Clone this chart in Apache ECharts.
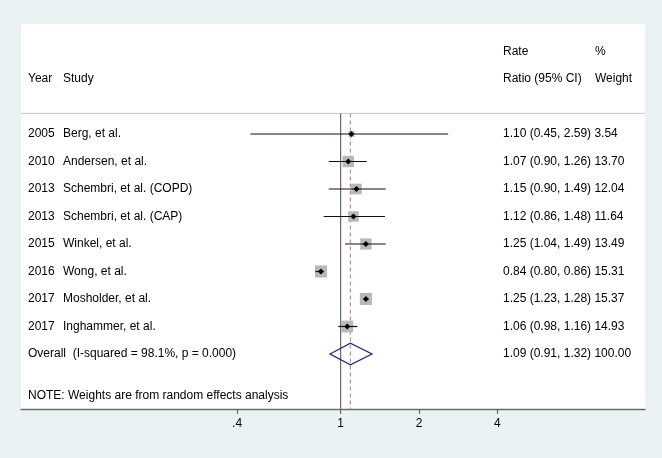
<!DOCTYPE html>
<html><head><meta charset="utf-8">
<script src="https://cdn.jsdelivr.net/npm/echarts@6/dist/echarts.min.js"></script>
<style>html,body{margin:0;padding:0;background:#eaf2f3}#c{width:662px;height:458px}</style>
</head><body><div id="c"></div>
<script>
// ---- data ----
const years = ['2005','2010','2013','2013','2015','2016','2017','2017'];
const studies = ['Berg, et al.','Andersen, et al.','Schembri, et al. (COPD)','Schembri, et al. (CAP)','Winkel, et al.','Wong, et al.','Mosholder, et al.','Inghammer, et al.'];
const rateRatio = [1.10, 1.07, 1.15, 1.12, 1.25, 0.84, 1.25, 1.06];
const ciLower   = [0.45, 0.90, 0.90, 0.86, 1.04, 0.80, 1.23, 0.98];
const ciUpper   = [2.59, 1.26, 1.49, 1.48, 1.49, 0.86, 1.28, 1.16];
const weights   = [3.54, 13.70, 12.04, 11.64, 13.49, 15.31, 15.37, 14.93];
const overallRR = 1.09, overallLower = 0.91, overallUpper = 1.32, overallWeight = 100.00;
const overallLabel = 'Overall  (I-squared = 98.1%, p = 0.000)';
const noteText = 'NOTE: Weights are from random effects analysis';
const nullValue = 1;
const xTicks = [0.4, 1, 2, 4];
const xTickLabels = ['.4', '1', '2', '4'];
const headerLeft = [['Year', 'Study'], ['', '']];
const headerRight1 = ['Rate', '%'];
const headerRight2 = ['Ratio (95% CI)', 'Weight'];

// ---- layout ----
const FONT = '12px "Liberation Sans", Arial, sans-serif';
const yMin = -4, yMax = 10, sepRow = -0.75;
const overallRow = rateRatio.length;
const noteRow = overallRow + 1.5;
const fmt = v => v.toFixed(2);

const studyRows = rateRatio.map((v, i) => [v, i, ciLower[i], ciUpper[i], weights[i]]);

const chart = echarts.init(document.getElementById('c'));
chart.setOption({
  animation: false,
  backgroundColor: '#eaf2f3',
  grid: { left: 21, right: 17, top: 24, bottom: 49, show: true, backgroundColor: '#ffffff', borderWidth: 0 },
  xAxis: {
    type: 'log', logBase: 10, min: 0.0591, max: 14.78,
    axisLine: { show: true, onZero: false, lineStyle: { color: '#6b6b6b', width: 1.3 } },
    axisTick: { show: true, customValues: xTicks, length: 5, lineStyle: { color: '#6b6b6b', width: 1.2 } },
    axisLabel: { customValues: xTicks, color: '#000', fontSize: 12, fontFamily: '"Liberation Sans", Arial, sans-serif', margin: 9,
      formatter: v => { const i = xTicks.findIndex(t => Math.abs(t - v) < 1e-6); return i >= 0 ? xTickLabels[i] : ''; } },
    splitLine: { show: false }
  },
  yAxis: { type: 'value', inverse: true, min: yMin, max: yMax, show: false, splitLine: { show: false } },
  series: [
    { // separator line
      type: 'custom', data: [[nullValue, sepRow]], encode: { x: 0, y: 1 }, z: 1,
      renderItem: (params, api) => {
        const p = api.coord([api.value(0), api.value(1)]);
        const cs = params.coordSys;
        return { type: 'line', shape: { x1: cs.x, y1: p[1], x2: cs.x + cs.width, y2: p[1] },
          style: { stroke: '#c8c8c8', lineWidth: 1 } };
      }
    },
    { // reference lines: null and overall
      type: 'custom', data: [[nullValue, sepRow, 0], [overallRR, sepRow, 1]], encode: { x: 0, y: 1 }, z: 2,
      renderItem: (params, api) => {
        const x = api.value(0);
        const p1 = api.coord([x, api.value(1)]);
        const p2 = api.coord([x, yMax]);
        const dashed = api.value(2) === 1;
        return { type: 'line', shape: { x1: p1[0], y1: p1[1], x2: p2[0], y2: p2[1] },
          style: dashed ? { stroke: '#c4828a', lineWidth: 1.1, lineDash: [4, 3] } : { stroke: '#666666', lineWidth: 1.2 } };
      }
    },
    { // study boxes, CI lines and point markers
      type: 'custom', data: studyRows, encode: { x: [0, 2, 3], y: 1 }, z: 3,
      renderItem: (params, api) => {
        const c = api.coord([api.value(0), api.value(1)]);
        const l = api.coord([api.value(2), api.value(1)]);
        const u = api.coord([api.value(3), api.value(1)]);
        const s = 3.07 * Math.sqrt(api.value(4));
        const d = 3;
        return { type: 'group', children: [
          { type: 'rect', shape: { x: c[0] - s / 2, y: c[1] - s / 2, width: s, height: s }, style: { fill: '#b8b8b8' } },
          { type: 'line', shape: { x1: l[0], y1: l[1], x2: u[0], y2: u[1] }, style: { stroke: '#111', lineWidth: 1.2 } },
          { type: 'polygon', shape: { points: [[c[0] - d, c[1]], [c[0], c[1] - d], [c[0] + d, c[1]], [c[0], c[1] + d]] }, style: { fill: '#000' } }
        ] };
      }
    },
    { // overall diamond
      type: 'custom', data: [[overallRR, overallRow, overallLower, overallUpper]], encode: { x: [0, 2, 3], y: 1 }, z: 4,
      renderItem: (params, api) => {
        const r = api.value(1);
        const pts = [
          api.coord([api.value(2), r]), api.coord([api.value(0), r - 0.39]),
          api.coord([api.value(3), r]), api.coord([api.value(0), r + 0.39])
        ];
        return { type: 'polygon', shape: { points: pts }, style: { fill: 'rgba(0,0,0,0)', stroke: '#1f2a6e', lineWidth: 1.3 } };
      }
    },
    { // text column
      type: 'custom', data: studyRows.map((r, i) => [r[0], i]), encode: { x: 0, y: 1 }, z: 5,
      renderItem: (params, api) => {
        const i = params.dataIndex;
        const cs = params.coordSys;
        const y = api.coord([1, api.value(1)])[1];
        const t = (x, s) => ({ type: 'text', x: x, y: y, style: { text: s, font: FONT, fill: '#000', align: 'left', verticalAlign: 'middle' } });
        return { type: 'group', children: [
          t(cs.x + 7, years[i]), t(cs.x + 42, studies[i]),
          t(cs.x + 482, fmt(rateRatio[i]) + ' (' + fmt(ciLower[i]) + ', ' + fmt(ciUpper[i]) + ') ' + fmt(weights[i]))
        ] };
      }
    },
    { // headers, overall and note text
      type: 'custom', data: [[1, -3, 0], [1, -2, 1], [1, overallRow, 2], [1, noteRow, 3]], encode: { x: 0, y: 1 }, z: 5,
      renderItem: (params, api) => {
        const cs = params.coordSys;
        const y = api.coord([1, api.value(1)])[1];
        const k = api.value(2);
        const t = (x, s) => ({ type: 'text', x: x, y: y, style: { text: s, font: FONT, fill: '#000', align: 'left', verticalAlign: 'middle' } });
        let ch = [];
        if (k === 0) ch = [t(cs.x + 482, headerRight1[0]), t(cs.x + 574, headerRight1[1])];
        else if (k === 1) ch = [t(cs.x + 7, headerLeft[0][0]), t(cs.x + 42, headerLeft[0][1]), t(cs.x + 482, headerRight2[0]), t(cs.x + 574, headerRight2[1])];
        else if (k === 2) ch = [t(cs.x + 7, overallLabel), t(cs.x + 482, fmt(overallRR) + ' (' + fmt(overallLower) + ', ' + fmt(overallUpper) + ') ' + fmt(overallWeight))];
        else ch = [t(cs.x + 7, noteText)];
        return { type: 'group', children: ch };
      }
    }
  ]
});
</script></body></html>
